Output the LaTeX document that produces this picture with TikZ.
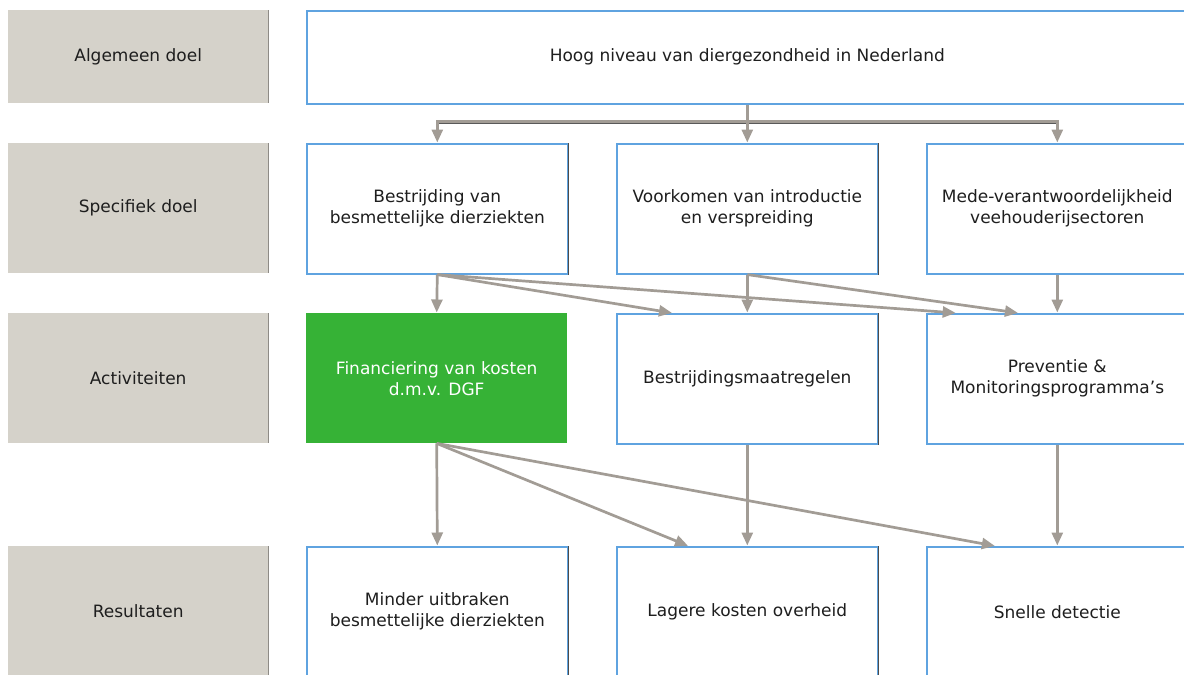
\documentclass[tikz,border=0pt]{standalone}
\usepackage{fontspec}
\setmainfont{DejaVu Sans}
\usetikzlibrary{arrows.meta,calc}
\definecolor{lgrey}{HTML}{D5D2CA}
\definecolor{ledge}{HTML}{8E8B86}
\definecolor{bblue}{HTML}{5FA3E0}
\definecolor{dgreen}{HTML}{36B236}
\definecolor{arr}{HTML}{A29C95}
\definecolor{txt}{HTML}{1E1E1E}
\begin{document}
\begin{tikzpicture}[x=1pt,y=-1pt,
  every node/.style={font=\fontsize{17}{21}\selectfont, text=txt, align=center, inner sep=0pt},
  lab/.style={fill=lgrey, minimum width=260pt, anchor=north west},
  box/.style={fill=white, draw=bblue, line width=1.6pt, minimum width=261pt, anchor=north west},
  gbox/.style={fill=dgreen, minimum width=261pt, anchor=north west, text=white},
  conn/.style={draw=arr, line width=2.7pt, -{Triangle[length=13pt,width=11pt]}, shorten >=0.5pt}
]
\useasboundingbox (0,0) rectangle (1184,675);
% left labels
\node[lab, minimum height=93pt]  (l1) at (8,10)  {Algemeen doel};
\node[lab, minimum height=130pt] (l2) at (8,143) {Specifiek doel};
\node[lab, minimum height=130pt] (l3) at (8,313) {Activiteiten};
\node[lab, minimum height=130pt] (l4) at (8,546) {Resultaten};
\foreach \n in {l1,l2,l3,l4} \draw[ledge, line width=1.5pt] (\n.north east) -- (\n.south east);
% top goal
\node[box, minimum width=881pt, minimum height=93pt] (t) at (306,10) {Hoog niveau van diergezondheid in Nederland};
% specific goals
\node[box, minimum height=130pt] (s1) at (306,143) {Bestrijding van\\besmettelijke dierziekten};
\node[box, minimum height=130pt] (s2) at (616,143) {Voorkomen van introductie\\en verspreiding};
\node[box, minimum height=130pt] (s3) at (926,143) {Mede-verantwoordelijkheid\\veehouderijsectoren};
% activities
\node[gbox, minimum height=130pt] (a1) at (306,313) {Financiering van kosten\\d.m.v. DGF};
\node[box, minimum height=130pt] (a2) at (616,313) {Bestrijdingsmaatregelen};
\node[box, minimum height=130pt] (a3) at (926,313) {Preventie \&\\Monitoringsprogramma’s};
% results
\node[box, minimum height=130pt] (r1) at (306,546) {Minder uitbraken\\besmettelijke dierziekten};
\node[box, minimum height=130pt] (r2) at (616,546) {Lagere kosten overheid};
\node[box, minimum height=130pt] (r3) at (926,546) {Snelle detectie};
% dark right edges
\foreach \n in {s1,s2,r1,r2,a2} \draw[black!70, line width=0.8pt] (\n.north east) -- (\n.south east);
% top tree
\coordinate (tj) at ($(t.south)+(0,17)$);
\draw[black!65, line width=0.9pt] ($(s1.north|-tj)+(0,1.8)$) -- ($(s3.north|-tj)+(0,1.8)$);
\draw[conn] (t.south) -- (tj) -| (s1.north);
\draw[conn] (tj) -- (s2.north);
\draw[conn] (tj) -| (s3.north);
% specific -> activities
\draw[conn] (s1.south) -- (a1.north);
\draw[conn] (s1.south) -- ($(a2.north west)!0.215!(a2.north east)$);
\draw[conn] (s1.south) -- ($(a3.north west)!0.115!(a3.north east)$);
\draw[conn] (s2.south) -- (a2.north);
\draw[conn] (s2.south) -- ($(a3.north west)!0.352!(a3.north east)$);
\draw[conn] (s3.south) -- (a3.north);
% activities -> results
\draw[conn] (a1.south) -- (r1.north);
\draw[conn] (a1.south) -- ($(r2.north west)!0.276!(r2.north east)$);
\draw[conn] (a1.south) -- ($(r3.north west)!0.264!(r3.north east)$);
\draw[conn] (a2.south) -- (r2.north);
\draw[conn] (a3.south) -- (r3.north);
\end{tikzpicture}
\end{document}
